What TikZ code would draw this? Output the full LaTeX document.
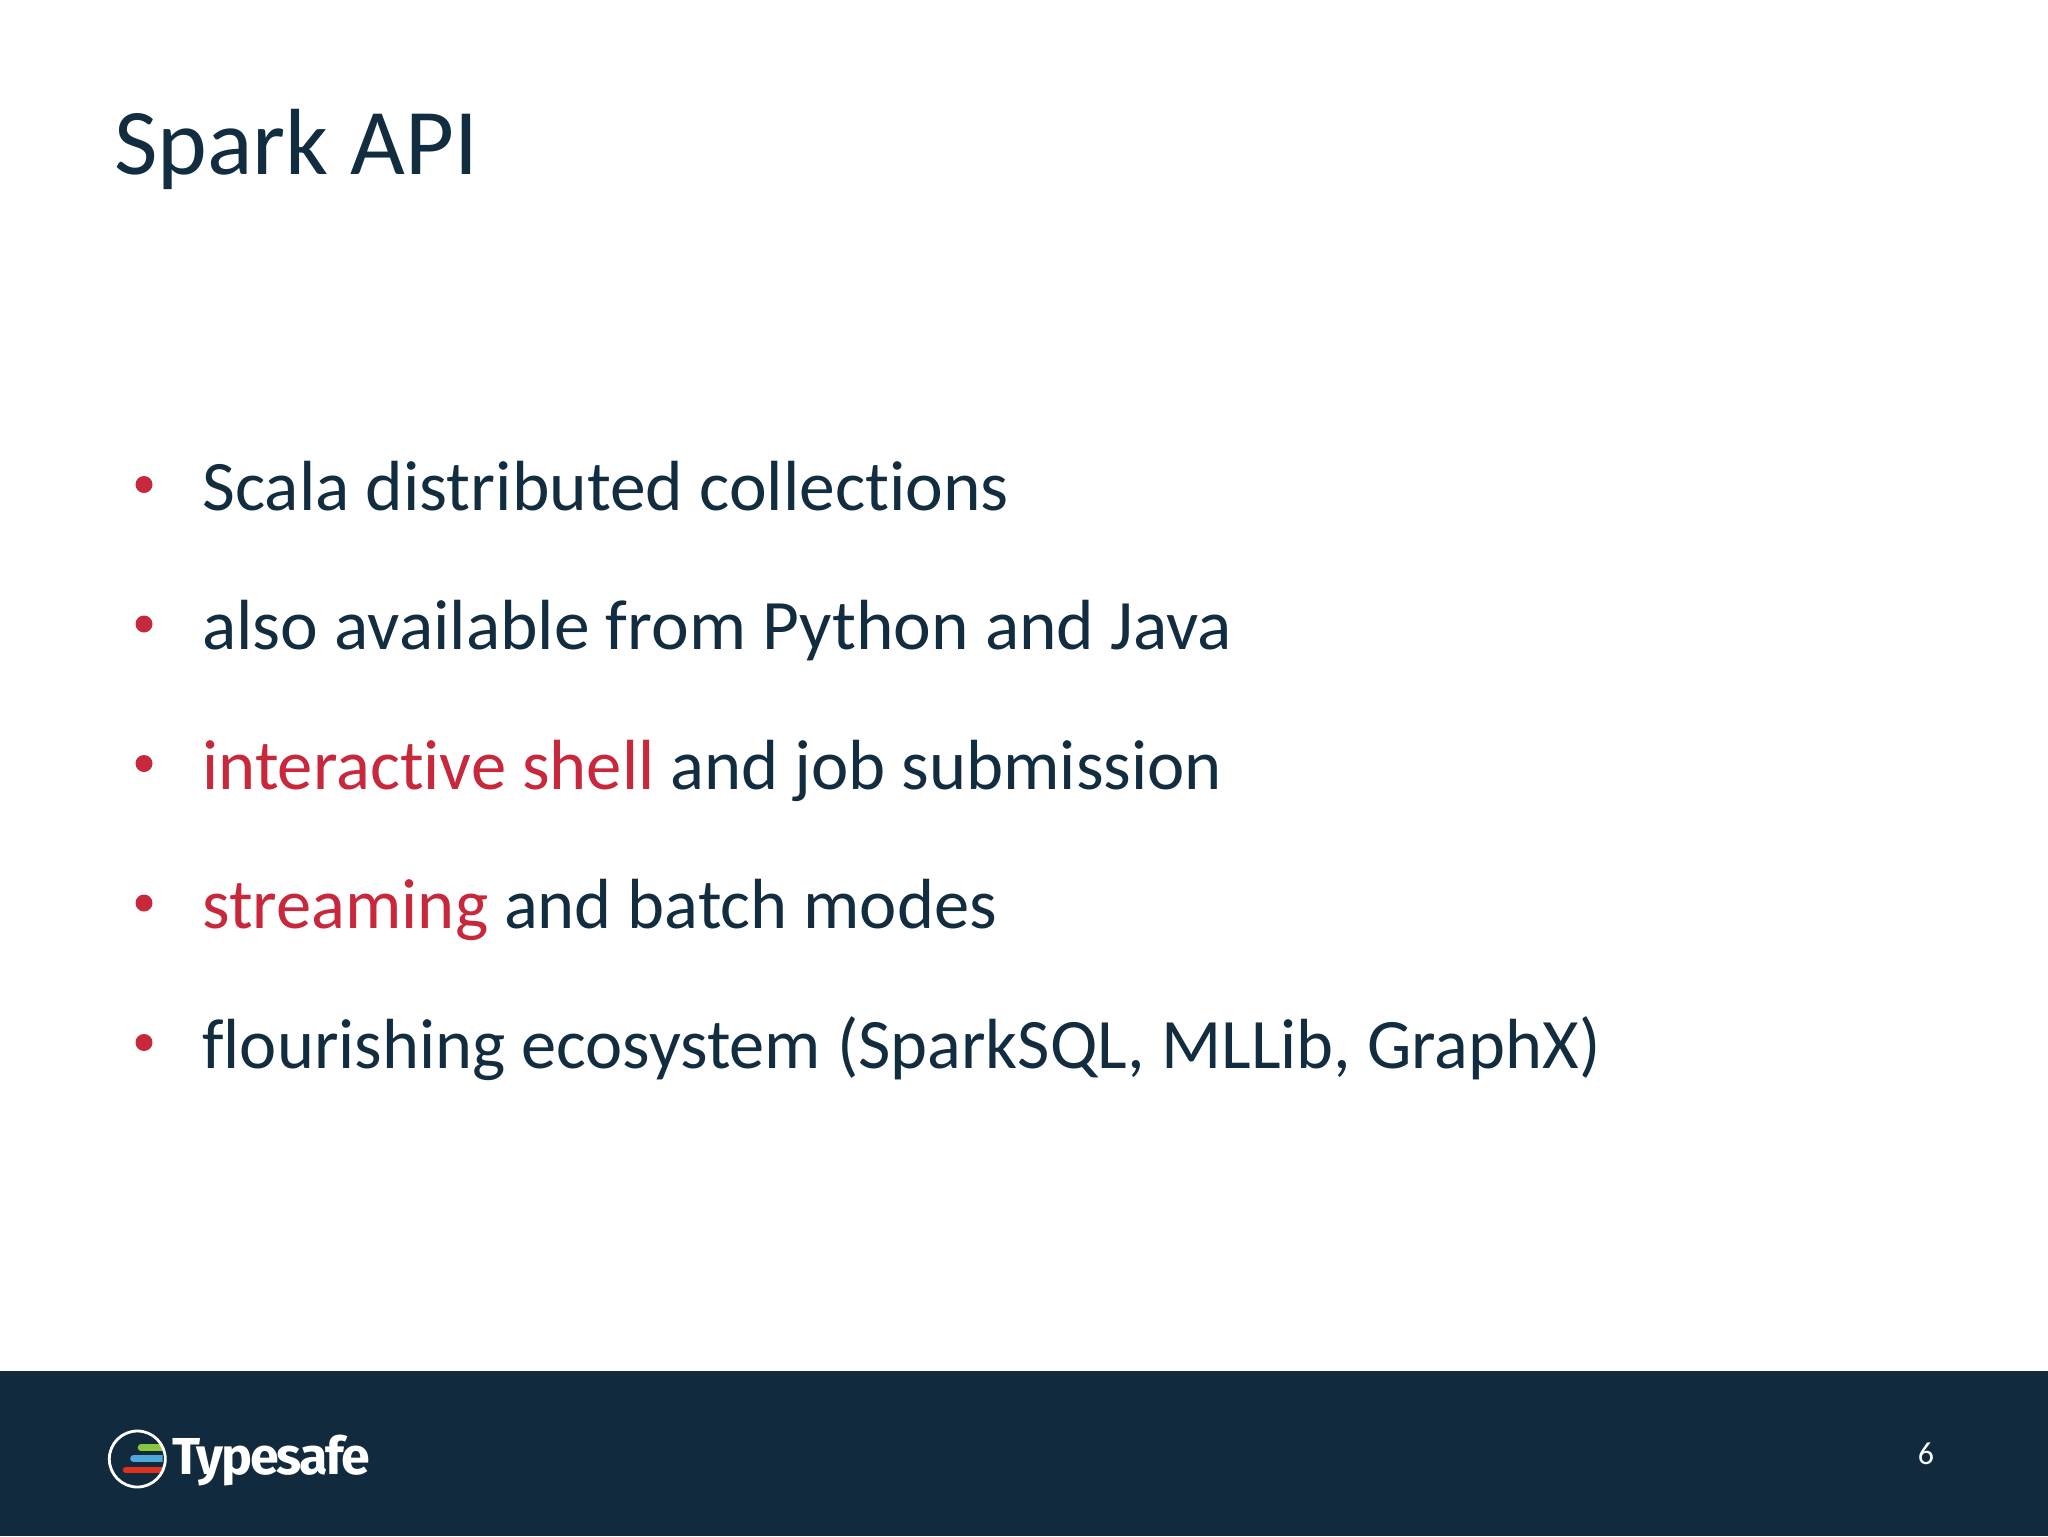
\documentclass[tikz,border=0pt]{standalone}
\usepackage{fontspec}
\setmainfont{Carlito}[RawFeature=-liga]
\newfontfamily\logofont{Fira Sans}[UprightFont=* Bold,LetterSpace=-4]
\definecolor{ink}{HTML}{132D40}
\definecolor{accent}{HTML}{C8283C}
\definecolor{band}{HTML}{112A3D}
\definecolor{lgreen}{HTML}{8CC63F}
\definecolor{lblue}{HTML}{4FA8D5}
\definecolor{lred}{HTML}{E0301E}
\newcommand{\hot}[1]{\textcolor{accent}{#1}}
\tikzset{x=0.5pt,y=-0.5pt,
  bodytext/.style={anchor=base west,inner sep=0pt,text=ink,font=\fontsize{35.5}{35.5}\selectfont},
  titletext/.style={anchor=base west,inner sep=0pt,text=ink,font=\fontsize{47}{47}\selectfont},
  dot/.style={fill=accent,draw=none},
  bar/.style={line width=3.3pt,line cap=round}}
\begin{document}
\begin{tikzpicture}
\useasboundingbox (0,0) rectangle (2048,1536);
\fill[white] (0,0) rectangle (2048,1536);
\fill[band] (0,1371) rectangle (2048,1536);
\node[titletext] (title) at (114,174) {\scalebox{1.007}[1]{Spark API}};
\foreach \n/\y in {1/484.5,2/624,3/763.5,4/903,5/1042.5}
  \fill[dot] (144,\y) circle[radius=8.5];
\node[bodytext] (l1) at (202,510) {\scalebox{1.0065}[1]{Scala distributed collections}};
\node[bodytext] (l2) at (202,649.5) {\scalebox{1.0064}[1]{also available from Python and Java}};
\node[bodytext] (l3) at (202,789) {\scalebox{0.995}[1]{\hot{interactive shell} and job submission}};
\node[bodytext] (l4) at (202,928.5) {\scalebox{0.9935}[1]{\hot{streaming} and batch modes}};
\node[bodytext] (l5) at (202,1068) {\scalebox{0.9916}[1]{flourishing ecosystem (SparkSQL, MLLib, GraphX)}};
\begin{scope}
\clip (100,1430) rectangle (162.5,1490);
\draw[bar,lgreen] (141,1447.7) -- (170,1447.7);
\draw[bar,lblue] (133.5,1458.7) -- (170,1458.7);
\draw[bar,lred] (126,1470) -- (170,1470);
\end{scope}
\draw[white,line width=1.4pt] (137.3,1459) circle[radius=28];
\node[anchor=base west,inner sep=0pt,text=white,font=\logofont\fontsize{26}{26}\selectfont] (logo) at (172,1474) {Typesafe};
\node[anchor=base,inner sep=0pt,text=white,font=\fontsize{16}{16}\selectfont] (page) at (1926,1464) {6};
\end{tikzpicture}
\end{document}
